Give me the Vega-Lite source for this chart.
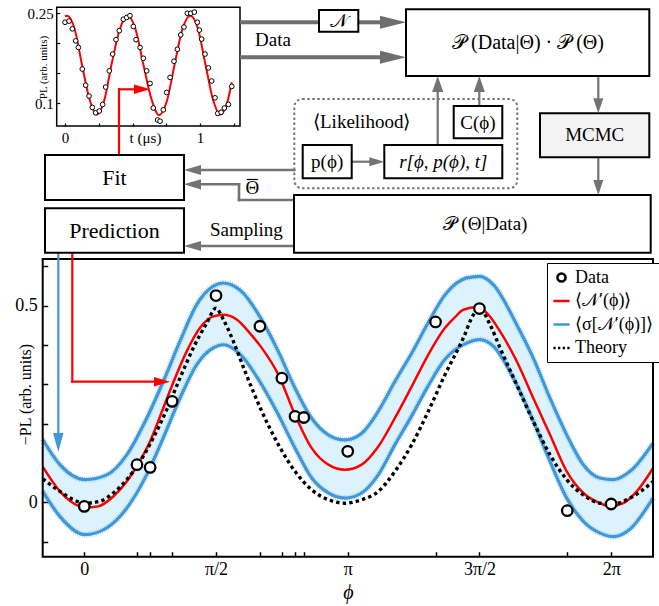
{
  "$schema": "https://vega.github.io/schema/vega-lite/v6.json",
  "width": 659,
  "height": 606,
  "padding": 0,
  "autosize": {"type": "none"},
  "background": "white",
  "config": {
    "font": "Liberation Serif",
    "view": {"stroke": null},
    "axis": {"labelFont": "Liberation Serif", "titleFont": "Liberation Serif", "labelColor": "black", "titleColor": "black", "tickColor": "black", "domain": false, "grid": false, "labelFlush": false, "labelOverlap": false, "titleFontWeight": "normal"}
  },
  "datasets": {
    "band": [
      {"x": -0.496, "lo": 0.028, "hi": 0.160}, {"x": -0.29, "lo": -0.036, "hi": 0.096}, {"x": 0.008, "lo": -0.082, "hi": 0.058},
      {"x": 0.267, "lo": -0.065, "hi": 0.070}, {"x": 0.506, "lo": -0.015, "hi": 0.121}, {"x": 0.744, "lo": 0.070, "hi": 0.214},
      {"x": 0.942, "lo": 0.164, "hi": 0.308}, {"x": 1.141, "lo": 0.265, "hi": 0.410}, {"x": 1.340, "lo": 0.350, "hi": 0.503},
      {"x": 1.539, "lo": 0.393, "hi": 0.550}, {"x": 1.658, "lo": 0.401, "hi": 0.558}, {"x": 1.857, "lo": 0.377, "hi": 0.540},
      {"x": 2.116, "lo": 0.299, "hi": 0.465}, {"x": 2.314, "lo": 0.223, "hi": 0.384}, {"x": 2.513, "lo": 0.138, "hi": 0.291},
      {"x": 2.712, "lo": 0.062, "hi": 0.214}, {"x": 2.910, "lo": 0.024, "hi": 0.172}, {"x": 3.109, "lo": 0.011, "hi": 0.159},
      {"x": 3.308, "lo": 0.024, "hi": 0.176}, {"x": 3.506, "lo": 0.070, "hi": 0.232}, {"x": 3.705, "lo": 0.147, "hi": 0.308},
      {"x": 3.905, "lo": 0.220, "hi": 0.380}, {"x": 4.103, "lo": 0.297, "hi": 0.458}, {"x": 4.302, "lo": 0.364, "hi": 0.528},
      {"x": 4.560, "lo": 0.405, "hi": 0.571}, {"x": 4.719, "lo": 0.414, "hi": 0.575}, {"x": 4.878, "lo": 0.397, "hi": 0.554},
      {"x": 5.157, "lo": 0.299, "hi": 0.452}, {"x": 5.355, "lo": 0.206, "hi": 0.367}, {"x": 5.554, "lo": 0.104, "hi": 0.265},
      {"x": 5.753, "lo": 0.011, "hi": 0.172}, {"x": 5.951, "lo": -0.048, "hi": 0.096}, {"x": 6.150, "lo": -0.078, "hi": 0.062},
      {"x": 6.309, "lo": -0.087, "hi": 0.058}, {"x": 6.508, "lo": -0.068, "hi": 0.079}, {"x": 6.782, "lo": 0.011, "hi": 0.151}
    ],
    "mean": [
      {"x": -0.496, "y": 0.091}, {"x": -0.29, "y": 0.028}, {"x": -0.131, "y": -0.002}, {"x": 0.008, "y": -0.013}, {"x": 0.167, "y": -0.010},
      {"x": 0.346, "y": 0.015}, {"x": 0.506, "y": 0.053}, {"x": 0.625, "y": 0.092}, {"x": 0.784, "y": 0.155}, {"x": 0.942, "y": 0.240},
      {"x": 1.061, "y": 0.305}, {"x": 1.221, "y": 0.384}, {"x": 1.380, "y": 0.444}, {"x": 1.539, "y": 0.473}, {"x": 1.658, "y": 0.477},
      {"x": 1.817, "y": 0.465}, {"x": 1.976, "y": 0.430}, {"x": 2.116, "y": 0.393}, {"x": 2.314, "y": 0.325}, {"x": 2.513, "y": 0.223},
      {"x": 2.712, "y": 0.138}, {"x": 2.910, "y": 0.096}, {"x": 3.109, "y": 0.083}, {"x": 3.308, "y": 0.096}, {"x": 3.506, "y": 0.142},
      {"x": 3.705, "y": 0.215}, {"x": 3.905, "y": 0.295}, {"x": 4.103, "y": 0.376}, {"x": 4.302, "y": 0.444}, {"x": 4.421, "y": 0.471},
      {"x": 4.520, "y": 0.490}, {"x": 4.680, "y": 0.496}, {"x": 4.799, "y": 0.482}, {"x": 4.958, "y": 0.435}, {"x": 5.157, "y": 0.359},
      {"x": 5.355, "y": 0.265}, {"x": 5.554, "y": 0.172}, {"x": 5.753, "y": 0.079}, {"x": 5.951, "y": 0.024}, {"x": 6.150, "y": -0.002},
      {"x": 6.269, "y": -0.010}, {"x": 6.428, "y": -0.002}, {"x": 6.588, "y": 0.028}, {"x": 6.782, "y": 0.087}
    ],
    "theory": [
      {"x": -0.496, "y": 0.060}, {"x": -0.29, "y": 0.028}, {"x": -0.131, "y": 0.007}, {"x": 0.008, "y": -0.002}, {"x": 0.187, "y": 0.003},
      {"x": 0.346, "y": 0.024}, {"x": 0.506, "y": 0.058}, {"x": 0.664, "y": 0.104}, {"x": 0.823, "y": 0.164}, {"x": 0.983, "y": 0.236},
      {"x": 1.141, "y": 0.316}, {"x": 1.300, "y": 0.393}, {"x": 1.460, "y": 0.456}, {"x": 1.571, "y": 0.494}, {"x": 1.658, "y": 0.465},
      {"x": 1.777, "y": 0.410}, {"x": 1.917, "y": 0.333}, {"x": 2.116, "y": 0.232}, {"x": 2.314, "y": 0.147}, {"x": 2.513, "y": 0.079},
      {"x": 2.712, "y": 0.032}, {"x": 2.910, "y": 0.007}, {"x": 3.109, "y": -0.002}, {"x": 3.308, "y": 0.007}, {"x": 3.506, "y": 0.028},
      {"x": 3.705, "y": 0.079}, {"x": 3.905, "y": 0.147}, {"x": 4.103, "y": 0.232}, {"x": 4.302, "y": 0.325}, {"x": 4.520, "y": 0.418},
      {"x": 4.639, "y": 0.477}, {"x": 4.712, "y": 0.494}, {"x": 4.839, "y": 0.452}, {"x": 4.958, "y": 0.393}, {"x": 5.157, "y": 0.299},
      {"x": 5.355, "y": 0.206}, {"x": 5.554, "y": 0.121}, {"x": 5.753, "y": 0.058}, {"x": 5.951, "y": 0.019}, {"x": 6.150, "y": -0.002},
      {"x": 6.309, "y": -0.004}, {"x": 6.508, "y": 0.011}, {"x": 6.782, "y": 0.053}
    ],
    "points": [
      {"x": 0, "y": -0.010}, {"x": 0.6283, "y": 0.096}, {"x": 0.7854, "y": 0.089}, {"x": 1.0472, "y": 0.257},
      {"x": 1.5708, "y": 0.526}, {"x": 2.0944, "y": 0.448}, {"x": 2.3562, "y": 0.316}, {"x": 2.5133, "y": 0.219},
      {"x": 2.618, "y": 0.216}, {"x": 3.1416, "y": 0.130}, {"x": 4.1888, "y": 0.459}, {"x": 4.7124, "y": 0.493},
      {"x": 5.7596, "y": -0.021}, {"x": 6.2832, "y": -0.004}
    ],
    "mainframe": [{"x1": -0.496, "x2": 6.782, "y1": -0.138, "y2": 0.619}],
    "legendrows": [{"s": "Data"}, {"s": "⟨𝒩′(ϕ)⟩"}, {"s": "⟨σ[𝒩′(ϕ)]⟩"}, {"s": "Theory"}],
    "insetfit": [
      {"t": 0.0, "v": 0.245}, {"t": 0.015, "v": 0.246}, {"t": 0.07, "v": 0.225}, {"t": 0.125, "v": 0.165}, {"t": 0.18, "v": 0.108},
      {"t": 0.235, "v": 0.081}, {"t": 0.29, "v": 0.104}, {"t": 0.345, "v": 0.165}, {"t": 0.405, "v": 0.223}, {"t": 0.465, "v": 0.246},
      {"t": 0.52, "v": 0.225}, {"t": 0.58, "v": 0.165}, {"t": 0.64, "v": 0.107}, {"t": 0.697, "v": 0.080}, {"t": 0.755, "v": 0.104},
      {"t": 0.812, "v": 0.165}, {"t": 0.87, "v": 0.224}, {"t": 0.928, "v": 0.246}, {"t": 0.985, "v": 0.224}, {"t": 1.04, "v": 0.165},
      {"t": 1.095, "v": 0.107}, {"t": 1.15, "v": 0.081}, {"t": 1.205, "v": 0.104}, {"t": 1.235, "v": 0.135}
    ],
    "insetdata": [
      {"t": 0.0, "v": 0.235}, {"t": 0.030, "v": 0.237}, {"t": 0.054, "v": 0.224}, {"t": 0.079, "v": 0.204}, {"t": 0.099, "v": 0.193},
      {"t": 0.128, "v": 0.157}, {"t": 0.153, "v": 0.130}, {"t": 0.178, "v": 0.112}, {"t": 0.202, "v": 0.093}, {"t": 0.227, "v": 0.084},
      {"t": 0.254, "v": 0.087}, {"t": 0.279, "v": 0.098}, {"t": 0.301, "v": 0.127}, {"t": 0.328, "v": 0.154}, {"t": 0.353, "v": 0.182},
      {"t": 0.378, "v": 0.206}, {"t": 0.402, "v": 0.221}, {"t": 0.432, "v": 0.240}, {"t": 0.457, "v": 0.243}, {"t": 0.481, "v": 0.246},
      {"t": 0.506, "v": 0.228}, {"t": 0.526, "v": 0.206}, {"t": 0.556, "v": 0.193}, {"t": 0.580, "v": 0.175}, {"t": 0.605, "v": 0.154},
      {"t": 0.630, "v": 0.133}, {"t": 0.654, "v": 0.092}, {"t": 0.686, "v": 0.072}, {"t": 0.704, "v": 0.070}, {"t": 0.728, "v": 0.089},
      {"t": 0.753, "v": 0.118}, {"t": 0.778, "v": 0.143}, {"t": 0.807, "v": 0.170}, {"t": 0.832, "v": 0.190}, {"t": 0.857, "v": 0.214},
      {"t": 0.881, "v": 0.227}, {"t": 0.906, "v": 0.250}, {"t": 0.931, "v": 0.250}, {"t": 0.958, "v": 0.252}, {"t": 0.980, "v": 0.235},
      {"t": 0.995, "v": 0.222}, {"t": 1.012, "v": 0.207}, {"t": 1.037, "v": 0.182}, {"t": 1.062, "v": 0.159}, {"t": 1.086, "v": 0.137},
      {"t": 1.111, "v": 0.109}, {"t": 1.131, "v": 0.083}, {"t": 1.156, "v": 0.085}, {"t": 1.180, "v": 0.092}, {"t": 1.210, "v": 0.098},
      {"t": 1.235, "v": 0.128}
    ],
    "insetframe": [{"t1": -0.0615, "t2": 1.296, "v1": 0.062, "v2": 0.26}],
    "boxes": [
      {"x": 319, "x2": 358.3, "y": 10, "y2": 31.7},
      {"x": 406, "x2": 649.3, "y": 9.3, "y2": 76},
      {"x": 453.7, "x2": 502.3, "y": 106, "y2": 138.3},
      {"x": 302.7, "x2": 351.7, "y": 145, "y2": 178.3},
      {"x": 384.3, "x2": 502.3, "y": 145, "y2": 178.3},
      {"x": 45, "x2": 184, "y": 155, "y2": 200},
      {"x": 45, "x2": 184, "y": 208.3, "y2": 252.7},
      {"x": 294, "x2": 650.7, "y": 195, "y2": 252.7}
    ],
    "mcmcbox": [{"x": 540, "x2": 649.3, "y": 113.3, "y2": 157.3}],
    "likelihoodbox": [{"x": 294.3, "x2": 517.3, "y": 99, "y2": 188.3}],
    "thickrules": [
      {"x": 240, "y": 22.3, "x2": 319, "y2": 22.3},
      {"x": 358.3, "y": 22.3, "x2": 385, "y2": 22.3},
      {"x": 240, "y": 57.3, "x2": 385, "y2": 57.3}
    ],
    "vrules": [
      {"x": 598.3, "y": 76, "x2": 598.3, "y2": 103},
      {"x": 598.3, "y": 157.3, "x2": 598.3, "y2": 185},
      {"x": 437.7, "y": 145, "x2": 437.7, "y2": 88},
      {"x": 479.3, "y": 106, "x2": 479.3, "y2": 88},
      {"x": 351.7, "y": 161.7, "x2": 372, "y2": 161.7}
    ],
    "leftrules": [
      {"x": 294.3, "y": 170, "x2": 196, "y2": 170},
      {"x": 294, "y": 200, "x2": 239, "y2": 200},
      {"x": 239, "y": 200, "x2": 239, "y2": 184.3},
      {"x": 239, "y": 184.3, "x2": 196, "y2": 184.3},
      {"x": 294, "y": 246, "x2": 196, "y2": 246}
    ],
    "redrules": [
      {"x": 119, "y": 155, "x2": 119, "y2": 89.3},
      {"x": 119, "y": 89.3, "x2": 140, "y2": 89.3},
      {"x": 72.3, "y": 252.7, "x2": 72.3, "y2": 381.7},
      {"x": 72.3, "y": 381.7, "x2": 158, "y2": 381.7}
    ],
    "bluerules": [{"x": 58.3, "y": 252.7, "x2": 58.3, "y2": 440}],
    "barrules": [{"x": 246.8, "y": 179.5, "x2": 257.8, "y2": 179.5}],
    "thickheads": [{"x": 406, "y": 22.3}, {"x": 406, "y": 57.3}],
    "downheads": [{"x": 598.3, "y": 113.3}, {"x": 598.3, "y": 195}],
    "upheads": [{"x": 437.7, "y": 76}, {"x": 479.3, "y": 76}],
    "rightheads": [{"x": 384.3, "y": 161.7}],
    "leftheads": [{"x": 184, "y": 170}, {"x": 184, "y": 184.3}, {"x": 184, "y": 246}],
    "redheads": [{"x": 150, "y": 89.3}, {"x": 170, "y": 381.7}],
    "blueheads": [{"x": 58.3, "y": 452}],
    "text19": [
      {"x": 273, "y": 40, "t": "Data"},
      {"x": 338.7, "y": 21, "t": "𝒩"},
      {"x": 594.7, "y": 135.3, "t": "MCMC"},
      {"x": 361.7, "y": 121.7, "t": "⟨Likelihood⟩"},
      {"x": 478, "y": 122.5, "t": "C(ϕ)"},
      {"x": 327.2, "y": 161.7, "t": "p(ϕ)"},
      {"x": 252.3, "y": 187.5, "t": "Θ"},
      {"x": 246.3, "y": 230, "t": "Sampling"},
      {"x": 485, "y": 223.5, "t": "𝒫 (Θ|Data)"}
    ],
    "text22": [{"x": 114.5, "y": 177.5, "t": "Fit"}, {"x": 114.5, "y": 230.5, "t": "Prediction"}],
    "text20": [{"x": 528, "y": 43, "t": "𝒫 (Data|Θ) · 𝒫 (Θ)"}],
    "textital": [{"x": 443.3, "y": 161.7, "t": "r[ϕ, p(ϕ), t]"}]
  },
  "layer": [
    {
      "layer": [
        {
          "data": {"name": "band"},
          "mark": {"type": "area", "color": "#dcf2fc", "interpolate": "monotone"},
          "encoding": {
            "x": {"field": "x", "type": "quantitative", "scale": {"domain": [-0.496, 6.782], "range": [42.7, 653], "nice": false, "zero": false},
              "axis": {"orient": "bottom", "offset": -49.3, "values": [0, 0.6283, 0.7854, 1.0472, 1.5708, 2.0944, 2.3562, 2.5133, 2.618, 3.1416, 4.1888, 4.7124, 5.7596, 6.2832],
                "labelExpr": "datum.value < 0.01 ? '0' : abs(datum.value - PI/2) < 0.01 ? 'π/2' : abs(datum.value - PI) < 0.01 ? 'π' : abs(datum.value - 3*PI/2) < 0.01 ? '3π/2' : abs(datum.value - 2*PI) < 0.01 ? '2π' : ''",
                "tickSize": -5, "tickWidth": 1.5, "labelPadding": 9, "labelFontSize": 18,
                "title": "ϕ", "titleFontSize": 20, "titleFontStyle": "italic", "titleY": 36, "titleBaseline": "middle"}},
            "y": {"field": "lo", "type": "quantitative", "scale": {"domain": [-0.138, 0.619], "range": [556.7, 259], "nice": false, "zero": false},
              "axis": {"orient": "left", "offset": -42.7, "values": [-0.1, 0, 0.1, 0.2, 0.3, 0.4, 0.5, 0.6],
                "labelExpr": "abs(datum.value) < 0.001 ? '0' : abs(datum.value - 0.5) < 0.001 ? '0.5' : ''",
                "tickSize": -5, "tickWidth": 1.5, "labelPadding": 10.5, "labelFontSize": 18,
                "title": "−PL (arb. units)", "titleFontSize": 16, "titleX": -17, "titleY": 394, "titleBaseline": "middle", "titleAlign": "center", "titleAngle": -90}},
            "y2": {"field": "hi"}
          }
        },
        {"data": {"name": "band"}, "mark": {"type": "line", "color": "#5aa8de", "strokeWidth": 6, "strokeDash": [0.8, 1.4], "opacity": 0.55, "interpolate": "monotone"},
          "encoding": {"x": {"field": "x", "type": "quantitative"}, "y": {"field": "hi", "type": "quantitative"}}},
        {"data": {"name": "band"}, "mark": {"type": "line", "color": "#5aa8de", "strokeWidth": 6, "strokeDash": [0.8, 1.4], "opacity": 0.55, "interpolate": "monotone"},
          "encoding": {"x": {"field": "x", "type": "quantitative"}, "y": {"field": "lo", "type": "quantitative"}}},
        {"data": {"name": "band"}, "mark": {"type": "line", "color": "#3f98d7", "strokeWidth": 3.2, "interpolate": "monotone"},
          "encoding": {"x": {"field": "x", "type": "quantitative"}, "y": {"field": "hi", "type": "quantitative"}}},
        {"data": {"name": "band"}, "mark": {"type": "line", "color": "#3f98d7", "strokeWidth": 3.2, "interpolate": "monotone"},
          "encoding": {"x": {"field": "x", "type": "quantitative"}, "y": {"field": "lo", "type": "quantitative"}}},
        {"data": {"name": "mean"}, "mark": {"type": "line", "color": "#ff0000", "strokeWidth": 2.5, "interpolate": "monotone"},
          "encoding": {"x": {"field": "x", "type": "quantitative"}, "y": {"field": "y", "type": "quantitative"}}},
        {"data": {"name": "theory"}, "mark": {"type": "line", "color": "black", "strokeWidth": 3.4, "strokeDash": [3.4, 3.2], "strokeCap": "butt", "interpolate": "monotone"},
          "encoding": {"x": {"field": "x", "type": "quantitative"}, "y": {"field": "y", "type": "quantitative"}}},
        {"data": {"name": "points"}, "mark": {"type": "point", "shape": "circle", "filled": true, "fill": "white", "stroke": "black", "strokeWidth": 2.3, "size": 110, "opacity": 1},
          "encoding": {"x": {"field": "x", "type": "quantitative"}, "y": {"field": "y", "type": "quantitative"}}},
        {"data": {"name": "mainframe"}, "mark": {"type": "rect", "fill": "white", "fillOpacity": 0, "stroke": "black", "strokeWidth": 2},
          "encoding": {"x": {"field": "x1", "type": "quantitative"}, "x2": {"field": "x2"}, "y": {"field": "y1", "type": "quantitative"}, "y2": {"field": "y2"}}},
        {"data": {"name": "legendrows"}, "mark": {"type": "point", "opacity": 0, "filled": false},
          "encoding": {
            "color": {"field": "s", "type": "nominal",
              "scale": {"domain": ["Data", "⟨𝒩′(ϕ)⟩", "⟨σ[𝒩′(ϕ)]⟩", "Theory"], "range": ["black", "#ff0000", "#3f98d7", "black"]},
              "legend": {"title": null, "orient": "none", "legendX": 547, "legendY": 263, "labelFont": "Liberation Serif", "labelFontSize": 18, "labelColor": "black",
                "symbolStrokeWidth": 2.5, "symbolSize": 260, "symbolOpacity": 1, "rowPadding": 4.5, "padding": 5, "labelOffset": 4,
                "strokeColor": "black", "fillColor": "white",
                "encode": {"legend": {"update": {"strokeWidth": {"value": 1.6}}}}}},
            "shape": {"field": "s", "type": "nominal",
              "scale": {"domain": ["Data", "⟨𝒩′(ϕ)⟩", "⟨σ[𝒩′(ϕ)]⟩", "Theory"],
                "range": ["M0.5,0A0.5,0.5 0 1,1 -0.5,0A0.5,0.5 0 1,1 0.5,0Z", "M-1,0L1,0", "M-1,0L1,0", "M-1,0L-0.72,0M-0.43,0L-0.15,0M0.15,0L0.43,0M0.72,0L1,0"]}}
          }}
      ]
    },
    {
      "layer": [
        {"data": {"name": "insetfit"}, "mark": {"type": "line", "color": "#ff0000", "strokeWidth": 2, "interpolate": "monotone"},
          "encoding": {
            "x": {"field": "t", "type": "quantitative", "scale": {"domain": [-0.0615, 1.296], "range": [56.7, 240], "nice": false, "zero": false},
              "axis": {"orient": "bottom", "offset": -480, "values": [0, 0.25, 0.5, 0.75, 1, 1.25],
                "labelExpr": "datum.value === 0 ? '0' : datum.value === 1 ? '1' : ''",
                "tickSize": -3, "tickWidth": 1.2, "labelPadding": 7, "labelFontSize": 15,
                "title": "t (μs)", "titleFontSize": 15, "titleX": 145, "titleY": 16.5, "titleBaseline": "alphabetic"}},
            "y": {"field": "v", "type": "quantitative", "scale": {"domain": [0.062, 0.26], "range": [126, 7.3], "nice": false, "zero": false},
              "axis": {"orient": "left", "offset": -56.7, "values": [0.1, 0.15, 0.2, 0.25],
                "labelExpr": "abs(datum.value - 0.1) < 0.001 ? '0.1' : abs(datum.value - 0.25) < 0.001 ? '0.25' : ''",
                "tickSize": -3, "tickWidth": 1.2, "labelPadding": 6.5, "labelFontSize": 15,
                "title": "PL (arb. units)", "titleFontSize": 11, "titleX": -13, "titleY": 67, "titleBaseline": "middle", "titleAlign": "center", "titleAngle": -90}}
          }},
        {"data": {"name": "insetdata"}, "mark": {"type": "point", "shape": "circle", "filled": true, "fill": "white", "stroke": "black", "strokeWidth": 1, "size": 22, "opacity": 1},
          "encoding": {"x": {"field": "t", "type": "quantitative"}, "y": {"field": "v", "type": "quantitative"}}},
        {"data": {"name": "insetframe"}, "mark": {"type": "rect", "fill": "white", "fillOpacity": 0, "stroke": "black", "strokeWidth": 1.5},
          "encoding": {"x": {"field": "t1", "type": "quantitative"}, "x2": {"field": "t2"}, "y": {"field": "v1", "type": "quantitative"}, "y2": {"field": "v2"}}}
      ]
    },
    {
      "layer": [
        {"data": {"name": "thickrules"}, "mark": {"type": "rule", "color": "#6e6e6e", "strokeWidth": 4},
          "encoding": {
            "x": {"field": "x", "type": "quantitative", "scale": {"domain": [0, 659], "range": [0, 659], "nice": false, "zero": false}, "axis": null},
            "y": {"field": "y", "type": "quantitative", "scale": {"domain": [0, 606], "range": [0, 606], "nice": false, "zero": false}, "axis": null},
            "x2": {"field": "x2"}, "y2": {"field": "y2"}}},
        {"data": {"name": "vrules"}, "mark": {"type": "rule", "color": "#737373", "strokeWidth": 2.2},
          "encoding": {"x": {"field": "x", "type": "quantitative"}, "y": {"field": "y", "type": "quantitative"}, "x2": {"field": "x2"}, "y2": {"field": "y2"}}},
        {"data": {"name": "leftrules"}, "mark": {"type": "rule", "color": "#737373", "strokeWidth": 2.6, "strokeCap": "square"},
          "encoding": {"x": {"field": "x", "type": "quantitative"}, "y": {"field": "y", "type": "quantitative"}, "x2": {"field": "x2"}, "y2": {"field": "y2"}}},
        {"data": {"name": "redrules"}, "mark": {"type": "rule", "color": "#ff0000", "strokeWidth": 2.2, "strokeCap": "square"},
          "encoding": {"x": {"field": "x", "type": "quantitative"}, "y": {"field": "y", "type": "quantitative"}, "x2": {"field": "x2"}, "y2": {"field": "y2"}}},
        {"data": {"name": "bluerules"}, "mark": {"type": "rule", "color": "#3f98d7", "strokeWidth": 2.2},
          "encoding": {"x": {"field": "x", "type": "quantitative"}, "y": {"field": "y", "type": "quantitative"}, "x2": {"field": "x2"}, "y2": {"field": "y2"}}},
        {"data": {"name": "barrules"}, "mark": {"type": "rule", "color": "black", "strokeWidth": 1.2},
          "encoding": {"x": {"field": "x", "type": "quantitative"}, "y": {"field": "y", "type": "quantitative"}, "x2": {"field": "x2"}, "y2": {"field": "y2"}}},
        {"data": {"name": "boxes"}, "mark": {"type": "rect", "fill": "white", "stroke": "black", "strokeWidth": 2},
          "encoding": {"x": {"field": "x", "type": "quantitative"}, "x2": {"field": "x2"}, "y": {"field": "y", "type": "quantitative"}, "y2": {"field": "y2"}}},
        {"data": {"name": "mcmcbox"}, "mark": {"type": "rect", "fill": "#f3f3f3", "stroke": "black", "strokeWidth": 2},
          "encoding": {"x": {"field": "x", "type": "quantitative"}, "x2": {"field": "x2"}, "y": {"field": "y", "type": "quantitative"}, "y2": {"field": "y2"}}},
        {"data": {"name": "likelihoodbox"}, "mark": {"type": "rect", "fill": "white", "fillOpacity": 0, "stroke": "#777777", "strokeWidth": 2, "strokeDash": [2.5, 2.5], "cornerRadius": 8},
          "encoding": {"x": {"field": "x", "type": "quantitative"}, "x2": {"field": "x2"}, "y": {"field": "y", "type": "quantitative"}, "y2": {"field": "y2"}}},
        {"data": {"name": "thickheads"}, "mark": {"type": "point", "shape": "M0,0L-2,-0.5L-2,0.5Z", "filled": true, "color": "#6e6e6e", "size": 676, "opacity": 1, "strokeWidth": 0},
          "encoding": {"x": {"field": "x", "type": "quantitative"}, "y": {"field": "y", "type": "quantitative"}}},
        {"data": {"name": "downheads"}, "mark": {"type": "point", "shape": "M0,0L-0.67,-2L0.67,-2Z", "filled": true, "color": "#737373", "size": 225, "opacity": 1, "strokeWidth": 0},
          "encoding": {"x": {"field": "x", "type": "quantitative"}, "y": {"field": "y", "type": "quantitative"}}},
        {"data": {"name": "upheads"}, "mark": {"type": "point", "shape": "M0,0L-0.7,2L0.7,2Z", "filled": true, "color": "#737373", "size": 256, "opacity": 1, "strokeWidth": 0},
          "encoding": {"x": {"field": "x", "type": "quantitative"}, "y": {"field": "y", "type": "quantitative"}}},
        {"data": {"name": "rightheads"}, "mark": {"type": "point", "shape": "M0,0L-2,-0.6L-2,0.6Z", "filled": true, "color": "#737373", "size": 225, "opacity": 1, "strokeWidth": 0},
          "encoding": {"x": {"field": "x", "type": "quantitative"}, "y": {"field": "y", "type": "quantitative"}}},
        {"data": {"name": "leftheads"}, "mark": {"type": "point", "shape": "M0,0L2,-0.6L2,0.6Z", "filled": true, "color": "#737373", "size": 289, "opacity": 1, "strokeWidth": 0},
          "encoding": {"x": {"field": "x", "type": "quantitative"}, "y": {"field": "y", "type": "quantitative"}}},
        {"data": {"name": "redheads"}, "mark": {"type": "point", "shape": "M0,0L-2,-0.6L-2,0.6Z", "filled": true, "color": "#ff0000", "size": 256, "opacity": 1, "strokeWidth": 0},
          "encoding": {"x": {"field": "x", "type": "quantitative"}, "y": {"field": "y", "type": "quantitative"}}},
        {"data": {"name": "blueheads"}, "mark": {"type": "point", "shape": "M0,0L-0.55,-2L0.55,-2Z", "filled": true, "color": "#3f98d7", "size": 361, "opacity": 1, "strokeWidth": 0},
          "encoding": {"x": {"field": "x", "type": "quantitative"}, "y": {"field": "y", "type": "quantitative"}}},
        {"data": {"name": "text19"}, "mark": {"type": "text", "font": "Liberation Serif", "fontSize": 19, "align": "center", "baseline": "middle", "color": "black"},
          "encoding": {"x": {"field": "x", "type": "quantitative"}, "y": {"field": "y", "type": "quantitative"}, "text": {"field": "t"}}},
        {"data": {"name": "text22"}, "mark": {"type": "text", "font": "Liberation Serif", "fontSize": 22, "align": "center", "baseline": "middle", "color": "black"},
          "encoding": {"x": {"field": "x", "type": "quantitative"}, "y": {"field": "y", "type": "quantitative"}, "text": {"field": "t"}}},
        {"data": {"name": "text20"}, "mark": {"type": "text", "font": "Liberation Serif", "fontSize": 20, "align": "center", "baseline": "middle", "color": "black"},
          "encoding": {"x": {"field": "x", "type": "quantitative"}, "y": {"field": "y", "type": "quantitative"}, "text": {"field": "t"}}},
        {"data": {"name": "textital"}, "mark": {"type": "text", "font": "Liberation Serif", "fontSize": 19, "fontStyle": "italic", "align": "center", "baseline": "middle", "color": "black"},
          "encoding": {"x": {"field": "x", "type": "quantitative"}, "y": {"field": "y", "type": "quantitative"}, "text": {"field": "t"}}}
      ]
    }
  ],
  "resolve": {"scale": {"x": "independent", "y": "independent"}, "axis": {"x": "independent", "y": "independent"}}
}
